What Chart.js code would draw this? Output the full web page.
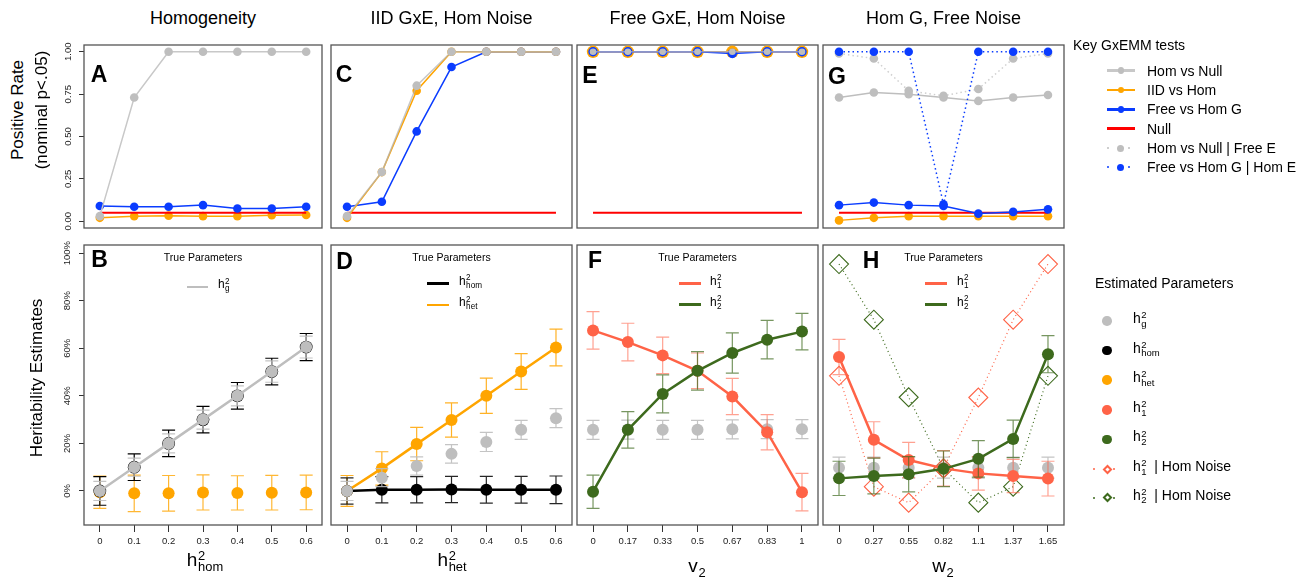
<!DOCTYPE html>
<html>
<head>
<meta charset="utf-8">
<script src="https://cdn.jsdelivr.net/npm/chart.js@4.4.1/dist/chart.umd.min.js"></script>
<style>
  body { margin: 0; background: #fff; }
  #fig { position: relative; width: 1308px; height: 580px; overflow: hidden; font-family: 'Liberation Sans', Arial, sans-serif; color: #000; }
  #fig canvas { position: absolute; }
  .t { position: absolute; white-space: nowrap; transform: translate(-50%, -50%); line-height: 1; }
  .l { position: absolute; white-space: nowrap; transform: translateY(-50%); line-height: 1; }
  .r { position: absolute; white-space: nowrap; transform: translate(-50%, -50%) rotate(-90deg); line-height: 1; }
  .ss { position: relative; display: inline-block; font-size: 0.68em; line-height: 1; vertical-align: -0.4em; margin-left: 0.05em; }
  .ss i { position: absolute; left: 0; bottom: 0.9em; font-style: normal; }
  .mk { position: absolute; }
</style>
</head>
<body>
<div id="fig"></div>
<script>
// x positions and tick labels
const xIdx = [0, 1, 2, 3, 4, 5, 6];
const hTicks = ['0', '0.1', '0.2', '0.3', '0.4', '0.5', '0.6'];
const vTicks = ['0', '0.17', '0.33', '0.5', '0.67', '0.83', '1'];
const wTicks = ['0', '0.27', '0.55', '0.82', '1.1', '1.37', '1.65'];
const rateTicks = [0, 0.25, 0.5, 0.75, 1];
const pctTicks = [0, 20, 40, 60, 80, 100];

// positive rates (top row)
const nullRate = [0.05, 0.05, 0.05, 0.05, 0.05, 0.05, 0.05];
const aHomNull = [0.03, 0.73, 1, 1, 1, 1, 1];
const aIidHom = [0.02, 0.03, 0.033, 0.03, 0.03, 0.035, 0.037];
const aFreeHom = [0.09, 0.085, 0.085, 0.095, 0.075, 0.075, 0.085];
const cHomNull = [0.03, 0.29, 0.8, 1, 1, 1, 1];
const cIidHom = [0.02, 0.29, 0.77, 1, 1, 1, 1];
const cFreeHom = [0.085, 0.115, 0.53, 0.91, 1, 1, 1];
const eHomNull = [1, 1, 1, 1, 1, 1, 1];
const eIidHom = [1, 1, 1, 1, 1, 1, 1];
const eFreeHom = [1, 1, 1, 1, 0.99, 1, 1];
const gHomNull = [0.73, 0.76, 0.75, 0.73, 0.71, 0.73, 0.745];
const gIidHom = [0.005, 0.02, 0.03, 0.03, 0.03, 0.03, 0.03];
const gFreeHom = [0.095, 0.11, 0.095, 0.09, 0.045, 0.055, 0.07];
const gHomNullFreeE = [0.99, 0.96, 0.77, 0.74, 0.78, 0.96, 0.99];
const gFreeHomHomE = [1, 1, 1, 0.1, 1, 1, 1];

// heritability estimates in % (bottom row), with +/- error
const bG = [0, 10, 20, 30, 40, 50.2, 60.5];
const bGErr = [4, 3.8, 4, 4, 4.2, 4.5, 4.6];
const bHom = [0, 10, 20, 30, 40, 50.2, 60.5];
const bHomErr = [6, 5.6, 5.6, 5.6, 5.6, 5.6, 5.7];
const bHet = [-0.5, -1, -1, -0.6, -0.8, -0.7, -0.6];
const bHetErr = [6.8, 7.7, 7.5, 7.4, 7.2, 7.3, 7.3];
const dG = [0, 5.6, 10.5, 15.6, 20.6, 25.7, 30.6];
const dGErr = [4, 3.8, 3.8, 3.9, 4, 4, 4];
const dHom = [0, 0.5, 0.5, 0.6, 0.5, 0.5, 0.5];
const dHomErr = [5.5, 5.5, 5.5, 5.5, 5.6, 5.6, 5.8];
const dHet = [0, 9.5, 19.7, 29.8, 40, 50.2, 60.3];
const dHetErr = [6.5, 7, 7, 7.2, 7.4, 7.5, 7.7];
const fH1 = [67.5, 62.6, 57, 50.5, 39.7, 24.7, -0.5];
const fH1Err = [7.9, 7.9, 7.7, 7.5, 7.6, 7.4, 7.9];
const fH2 = [-0.3, 25.7, 40.8, 50.5, 58, 63.6, 67];
const fH2Err = [7, 7.7, 8, 8.1, 8.5, 8.1, 7.7];
const fG = [25.7, 25.8, 25.7, 25.7, 25.9, 26, 26];
const fGErr = [4, 4, 4, 4, 4, 4, 4];
const hH1 = [56.3, 21.5, 13, 9.5, 7.4, 6.3, 5.2];
const hH1Err = [7.4, 7.6, 7.4, 7.5, 7, 7, 7.3];
const hH2 = [5.3, 6.3, 7, 9.3, 13.5, 21.9, 57.5];
const hH2Err = [7.2, 7.5, 7.4, 7.5, 7.7, 7.9, 7.8];
const hG = [9.8, 9.8, 9.8, 9.8, 9.8, 9.8, 9.8];
const hGErr = [4.4, 4.4, 4.4, 4.4, 4.4, 4.4, 4.4];
const hH1Hom = [48.4, 1.8, -4.9, 9.5, 39.3, 72, 95.4];
const hH2Hom = [95.4, 72, 39.4, 9.5, -4.9, 1.8, 48.4];

const cGray = '#bebebe', cOrange = '#ffa500', cBlue = '#0a3cff', cRed = '#ff0000';
const cTomato = '#ff6347', cGreen = '#3d6a1d', cBlack = '#000000';
const FONT = "'Liberation Sans', Arial, sans-serif";

const fig = document.getElementById('fig');

// error bars drawn under each dataset's own points
const errorBars = {
  id: 'errorBars',
  beforeDatasetDraw(chart, args) {
    const ds = chart.data.datasets[args.index];
    if (!ds.err) return;
    const {ctx, scales: {x, y}} = chart;
    ctx.save();
    ctx.strokeStyle = ds.errColor;
    ctx.lineWidth = 1.2;
    ds.data.forEach((p, i) => {
      const px = x.getPixelForValue(p.x);
      const hi = y.getPixelForValue(p.y + ds.err[i]);
      const lo = y.getPixelForValue(p.y - ds.err[i]);
      ctx.beginPath();
      ctx.moveTo(px, hi); ctx.lineTo(px, lo);
      ctx.moveTo(px - 6.5, hi); ctx.lineTo(px + 6.5, hi);
      ctx.moveTo(px - 6.5, lo); ctx.lineTo(px + 6.5, lo);
      ctx.stroke();
    });
    ctx.restore();
  }
};

// box round the plot area
const frame = {
  id: 'frame',
  beforeDatasetsDraw(chart) {
    const {ctx, chartArea: a} = chart;
    ctx.save();
    ctx.strokeStyle = '#555';
    ctx.lineWidth = 1.3;
    ctx.strokeRect(a.left, a.top, a.width, a.height);
    ctx.restore();
  }
};

function ser(ys, color, o) {
  return Object.assign({
    data: ys.map((y, i) => ({x: xIdx[i], y})),
    borderColor: color, backgroundColor: color,
    pointBackgroundColor: color, pointBorderColor: color,
    borderWidth: 1.5, pointRadius: 4.3, pointBorderWidth: 0
  }, o);
}
const nullLine = () => ser(nullRate, cRed, {pointRadius: 0, borderWidth: 2.2});
const dotted = {borderDash: [1.5, 3], borderWidth: 1.5};
const big = {pointRadius: 6, borderWidth: 2.5};

const P = 12, YW = 40, XH = 30;
function panel(col, top, h, datasets, o) {
  const c = document.createElement('canvas');
  c.width = col.w + 2 * P + (o.showY ? YW : 0);
  c.height = h + 2 * P + (o.xLabels ? XH : 0);
  c.style.left = (col.x - P - (o.showY ? YW : 0)) + 'px';
  c.style.top = (top - P) + 'px';
  fig.appendChild(c);
  const tickFont = {family: FONT, size: 9.5};
  new Chart(c, {
    type: 'line',
    data: {datasets},
    options: {
      responsive: false,
      animation: false,
      events: [],
      layout: {padding: P},
      plugins: {legend: {display: false}, tooltip: {enabled: false}},
      scales: {
        x: {
          type: 'linear', min: -0.46, max: 6.46, display: !!o.xLabels,
          afterBuildTicks: s => { s.ticks = xIdx.map(v => ({value: v})); },
          afterFit: s => { if (o.xLabels) s.height = XH; },
          ticks: {callback: v => (o.xLabels || [])[v], font: tickFont, color: '#222', padding: 4, maxRotation: 0, autoSkip: false},
          grid: {drawOnChartArea: false, tickLength: 7, color: '#333'},
          border: {display: false}
        },
        y: {
          type: 'linear', min: o.yMin, max: o.yMax, display: !!o.showY,
          afterBuildTicks: s => { s.ticks = o.yTicks.map(v => ({value: v})); },
          afterFit: s => { if (o.showY) s.width = YW; },
          ticks: {callback: o.yFmt, font: tickFont, color: '#222', padding: o.yPad || 0,
                  minRotation: 90, maxRotation: 90, crossAlign: 'center', autoSkip: false},
          grid: {drawOnChartArea: false, tickLength: 5, color: '#333'},
          border: {display: false}
        }
      }
    },
    plugins: [errorBars, frame]
  });
}

const cols = [{x: 84, w: 238}, {x: 331, w: 241}, {x: 577, w: 241}, {x: 823, w: 241}];
const topY = 45, topH = 183, botY = 245, botH = 280;
const rateOpt = {yMin: -0.04, yMax: 1.04, yTicks: rateTicks, yFmt: v => v.toFixed(2), yPad: 1};
const pctOpt = {yMin: -14.3, yMax: 103.4, yTicks: pctTicks, yFmt: v => v + '%', yPad: -1};

// top row: positive rates
panel(cols[0], topY, topH, [
  ser(aHomNull, cGray, {borderColor: '#c8c8c8'}),
  ser(aFreeHom, cBlue),
  nullLine(),
  ser(aIidHom, cOrange)
], Object.assign({showY: true}, rateOpt));

panel(cols[1], topY, topH, [
  ser(cHomNull, cGray, {borderColor: 'rgba(180,180,180,0.75)'}),
  ser(cIidHom, cOrange),
  ser(cFreeHom, cBlue),
  nullLine()
], rateOpt);

panel(cols[2], topY, topH, [
  ser(eHomNull, cGray, {pointRadius: 3.3, borderColor: 'rgba(170,170,190,0.8)'}),
  ser(eFreeHom, cBlue, {pointRadius: 4.7}),
  ser(eIidHom, cOrange, {pointRadius: 6.2}),
  nullLine()
], rateOpt);

panel(cols[3], topY, topH, [
  ser(gFreeHomHomE, cBlue, dotted),
  ser(gHomNullFreeE, cGray, Object.assign({borderColor: '#cfcfcf'}, dotted)),
  ser(gHomNull, cGray),
  ser(gFreeHom, cBlue),
  nullLine(),
  ser(gIidHom, cOrange)
], rateOpt);

// bottom row: heritability estimates
panel(cols[0], botY, botH, [
  ser(bG, cGray, Object.assign({err: bGErr, errColor: 'rgba(190,190,190,0.9)'}, big)),
  ser(bHom, cBlack, {showLine: false, pointRadius: 6.4, err: bHomErr, errColor: '#000'}),
  ser(bHet, cOrange, {showLine: false, pointRadius: 6, err: bHetErr, errColor: 'rgba(255,165,0,0.8)'})
], Object.assign({showY: true, xLabels: hTicks}, pctOpt));

panel(cols[1], botY, botH, [
  ser(dG, cGray, {showLine: false, pointRadius: 6, err: dGErr, errColor: 'rgba(190,190,190,0.9)'}),
  ser(dHom, cBlack, Object.assign({err: dHomErr, errColor: 'rgba(0,0,0,0.85)'}, big)),
  ser(dHet, cOrange, Object.assign({err: dHetErr, errColor: 'rgba(255,165,0,0.85)'}, big))
], Object.assign({xLabels: hTicks}, pctOpt));

panel(cols[2], botY, botH, [
  ser(fH2, cGreen, Object.assign({err: fH2Err, errColor: 'rgba(61,106,29,0.7)'}, big)),
  ser(fH1, cTomato, Object.assign({err: fH1Err, errColor: 'rgba(255,99,71,0.6)'}, big)),
  ser(fG, cGray, {showLine: false, pointRadius: 6, err: fGErr, errColor: 'rgba(190,190,190,0.9)'})
], Object.assign({xLabels: vTicks}, pctOpt));

const diamond = {pointStyle: 'rectRot', pointRadius: 9.5, pointBackgroundColor: 'rgba(0,0,0,0)',
                 pointBorderWidth: 1.1, borderWidth: 1.2, borderDash: [1, 3]};
panel(cols[3], botY, botH, [
  ser(hH2, cGreen, Object.assign({err: hH2Err, errColor: 'rgba(61,106,29,0.7)'}, big)),
  ser(hH1, cTomato, Object.assign({err: hH1Err, errColor: 'rgba(255,99,71,0.6)'}, big)),
  ser(hG, cGray, {showLine: false, pointRadius: 6, err: hGErr, errColor: 'rgba(190,190,190,0.9)'}),
  ser(hH1Hom, cTomato, diamond),
  ser(hH2Hom, cGreen, diamond)
], Object.assign({xLabels: wTicks}, pctOpt));

// text and legends
function h2(sub) { return `h<span class="ss"><i>2</i>${sub}</span>`; }
function put(cls, x, y, html, css) {
  const d = document.createElement('div');
  d.className = cls;
  d.style.cssText = `left:${x}px;top:${y}px;` + (css || '');
  d.innerHTML = html;
  fig.appendChild(d);
}
function mark(x, y, w, h, css) {
  const d = document.createElement('div');
  d.className = 'mk';
  d.style.cssText = `left:${x}px;top:${y}px;width:${w}px;height:${h}px;` + css;
  fig.appendChild(d);
}
const segment = (x1, x2, y, color, lw) => mark(x1, y - lw / 2, x2 - x1, lw, `background:${color}`);
const disc = (x, y, r, color) => mark(x - r, y - r, 2 * r, 2 * r, `background:${color};border-radius:50%`);
const rhomb = (x, y, s, color) => mark(x - s / 2, y - s / 2, s, s, `box-sizing:border-box;border:2px solid ${color};transform:rotate(45deg)`);

['Homogeneity', 'IID GxE, Hom Noise', 'Free GxE, Hom Noise', 'Hom G, Free Noise'].forEach((s, i) => {
  put('t', cols[i].x + cols[i].w / 2, 18, s, 'font-size:18px');
});
put('r', 17, 110, 'Positive Rate', 'font-size:17px');
put('r', 41, 110, '(nominal p&lt;.05)', 'font-size:17px');
put('r', 36, 378, 'Heritability Estimates', 'font-size:17px');

[['A', 99, 74], ['C', 344, 74], ['E', 590, 75], ['G', 837, 76],
 ['B', 99.5, 259], ['D', 344.5, 261], ['F', 595, 260], ['H', 871, 260]].forEach(([s, x, y]) => {
  put('t', x, y, s, 'font-size:23px;font-weight:bold');
});

cols.forEach(c => put('t', c.x + c.w / 2, 257, 'True Parameters', 'font-size:10.5px'));
// in-panel legends
segment(187, 208, 287, cGray, 2.5); put('l', 218, 286, h2('g'), 'font-size:12px');
segment(427, 449, 283.5, cBlack, 2.5); put('l', 459, 282.5, h2('hom'), 'font-size:12px');
segment(427, 449, 305, cOrange, 2.5); put('l', 459, 304, h2('het'), 'font-size:12px');
segment(679, 701, 283.5, cTomato, 2.5); put('l', 710, 282.5, h2('1'), 'font-size:12px');
segment(679, 701, 304.5, cGreen, 2.5); put('l', 710, 303.5, h2('2'), 'font-size:12px');
segment(925, 947, 283.5, cTomato, 2.5); put('l', 957, 282.5, h2('1'), 'font-size:12px');
segment(925, 947, 304.5, cGreen, 2.5); put('l', 957, 303.5, h2('2'), 'font-size:12px');

// axis titles
put('t', 205, 562, h2('hom'), 'font-size:19px');
put('t', 452, 562, h2('het'), 'font-size:19px');
put('t', 697, 568, 'v<span class="ss">2</span>', 'font-size:19px');
put('t', 943, 568, 'w<span class="ss">2</span>', 'font-size:19px');

// key of tests
put('l', 1073, 45, 'Key GxEMM tests', 'font-size:14px');
const keyRows = [70.7, 90, 109.3, 128.7, 148.3, 167.3];
const keyText = ['Hom vs Null', 'IID vs Hom', 'Free vs Hom G', 'Null', 'Hom vs Null | Free E', 'Free vs Hom G | Hom E'];
const keyCol = [cGray, cOrange, cBlue, cRed, cGray, cBlue];
keyRows.forEach((y, i) => {
  if (i < 4) segment(1107, 1135, y, i === 0 ? '#c8c8c8' : keyCol[i], 2.5);
  if (i < 3) disc(1121, y, 3.3, keyCol[i]);
  if (i > 3) { disc(1108, y, 1.1, keyCol[i]); disc(1120.5, y, 3.5, keyCol[i]); disc(1129, y, 1.1, keyCol[i]); }
  put('l', 1147, y, keyText[i], 'font-size:14px');
});

// key of estimated parameters
put('l', 1095, 283, 'Estimated Parameters', 'font-size:14px');
const estRows = [321, 350.7, 380, 410, 439.3, 469, 497.7];
const estText = [h2('g'), h2('hom'), h2('het'), h2('1'), h2('2'),
                 h2('1') + '&nbsp;&nbsp;| Hom Noise', h2('2') + '&nbsp;&nbsp;| Hom Noise'];
const estCol = [cGray, cBlack, cOrange, cTomato, cGreen, cTomato, cGreen];
estRows.forEach((y, i) => {
  if (i < 5) disc(1107, y, 4.8, estCol[i]);
  else { disc(1094, y, 1.2, estCol[i]); rhomb(1107.5, y, 7, estCol[i]); disc(1114, y, 1.2, estCol[i]); }
  put('l', 1133, y - 1, estText[i], 'font-size:14px');
});
</script>
</body>
</html>
